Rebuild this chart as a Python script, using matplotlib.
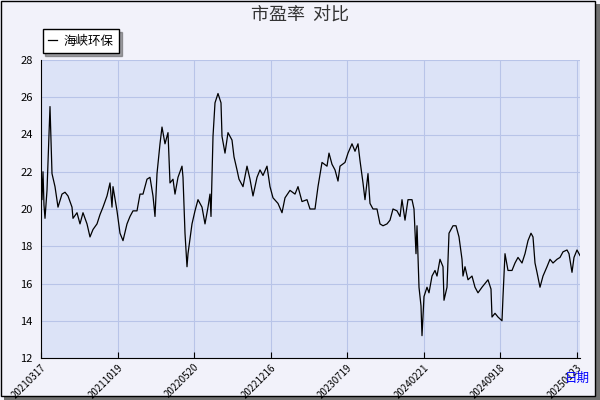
import matplotlib
matplotlib.use("Agg")
import matplotlib.pyplot as plt
from matplotlib.patches import Rectangle

plt.rcParams['font.family'] = ['Noto Sans CJK SC', 'DejaVu Sans']

t = [0,1,2,3,4,6,9,11,14,17,21,24,27,31,32,36,39,42,46,49,52,56,59,62,66,69,71,72,76,79,82,86,89,92,96,99,102,106,109,112,114,116,119,121,124,127,129,132,134,137,141,142,144,146,147,151,154,157,161,164,167,169,170,172,174,177,180,181,184,187,191,193,196,198,
     202,206,209,212,216,219,222,226,229,232,237,241,244,249,254,257,261,266,269,274,277,281,286,288,291,294,297,299,304,307,311,314,317,319,322,324,327,329,332,336,339,342,346,349,352,356,359,361,364,367,371,373,375,376,378,380,381,383,386,388,
     391,394,396,399,402,403,406,408,412,415,418,421,422,424,427,431,434,437,441,444,447,450,451,454,457,461,462,464,467,471,474,477,481,484,487,490,492,494,496,499,502,506,509,512,516,519,522,526,528,531,533,536,539]
pe = [22.5,20.5,22.0,20.2,19.5,21.0,25.5,21.9,21.2,20.1,20.8,20.9,20.7,20.1,19.5,19.8,19.2,19.8,19.2,18.5,18.9,19.2,19.7,20.1,20.7,21.4,20.1,21.2,19.9,18.7,18.3,19.2,19.6,19.9,19.9,20.8,20.8,21.6,21.7,20.7,19.6,21.9,23.5,24.4,23.5,24.1,21.4,21.6,20.8,21.7,22.3,21.7,18.7,16.9,17.6,19.2,19.9,20.5,20.1,19.2,20.1,20.8,19.6,23.9,25.7,26.2,25.7,23.9,23.0,24.1,23.7,22.8,22.1,21.6,
      21.2,22.3,21.6,20.7,21.7,22.1,21.8,22.3,21.2,20.6,20.3,19.8,20.6,21.0,20.8,21.2,20.4,20.5,20.0,20.0,21.2,22.5,22.3,23.0,22.4,22.1,21.5,22.3,22.5,23.0,23.5,23.1,23.5,22.6,21.4,20.5,21.9,20.3,20.0,20.0,19.2,19.1,19.2,19.4,20.0,19.9,19.6,20.5,19.4,20.5,20.5,20.0,17.6,19.1,15.8,14.8,13.2,15.3,15.8,15.5,
      16.4,16.7,16.4,17.3,16.9,15.1,15.8,18.7,19.1,19.1,18.5,17.3,16.4,16.9,16.2,16.4,15.8,15.5,15.8,16.0,16.2,15.7,14.2,14.4,14.2,14.0,15.3,17.6,16.7,16.7,17.1,17.4,17.1,17.6,18.3,18.7,18.5,17.1,16.6,15.8,16.4,16.9,17.3,17.1,17.3,17.4,17.7,17.8,17.6,16.6,17.4,17.8,17.5]
tick_pos = [0, 77, 153, 230, 306, 383, 459, 536]
tick_labels = ['20210317', '20211019', '20220520', '20221216', '20230719', '20240221', '20240918', '20250123']
y_ticks = [12, 14, 16, 18, 20, 22, 24, 26, 28]

fig = plt.figure(figsize=(6, 4), dpi=100)
fig.patch.set_facecolor('#f2f2fa')
fig.patches.append(Rectangle((4/600, 0), 596/600, 396/400, transform=fig.transFigure, facecolor='#707070', edgecolor='none', zorder=-2))
fig.patches.append(Rectangle((0.5/600, 4/400), 594/600, 395/400, transform=fig.transFigure, facecolor='#f2f2fa', edgecolor='black', lw=1, zorder=-1))

ax = fig.add_axes([41/600, 1 - 358/400, 539/600, 298/400])
ax.set_facecolor('#dce3f7')
ax.plot(t, pe, color='black', lw=0.9, label='海峡环保')
ax.set_xlim(0, 539)
ax.set_ylim(12, 28)
ax.set_yticks(y_ticks)
ax.set_yticklabels([str(v) for v in y_ticks], fontsize=8)
ax.set_xticks(tick_pos)
ax.set_xticklabels(tick_labels, rotation=45, fontsize=7, ha='right', rotation_mode='anchor')
ax.grid(True, color='#b8c4e8', lw=0.8)
for s in ['top', 'right']:
    ax.spines[s].set_visible(False)
ax.tick_params(axis='both', length=4, direction='in', pad=3)
ax.tick_params(axis='y', length=0, pad=6)
ax.legend(loc='lower left', bbox_to_anchor=(-0.004, 1.01), fontsize=9, frameon=True, fancybox=False,
          edgecolor='black', handlelength=0.7, handletextpad=0.5, borderpad=0.45, borderaxespad=0.3, shadow=True)
fig.text(0.5, 1 - 15/400, '市盈率  对比', ha='center', va='center', fontsize=13, color='#333333')
fig.text(577/600, 1 - 378/400, '日期', ha='center', va='center', fontsize=9, color='blue')
fig.savefig('out.png', dpi=100)
